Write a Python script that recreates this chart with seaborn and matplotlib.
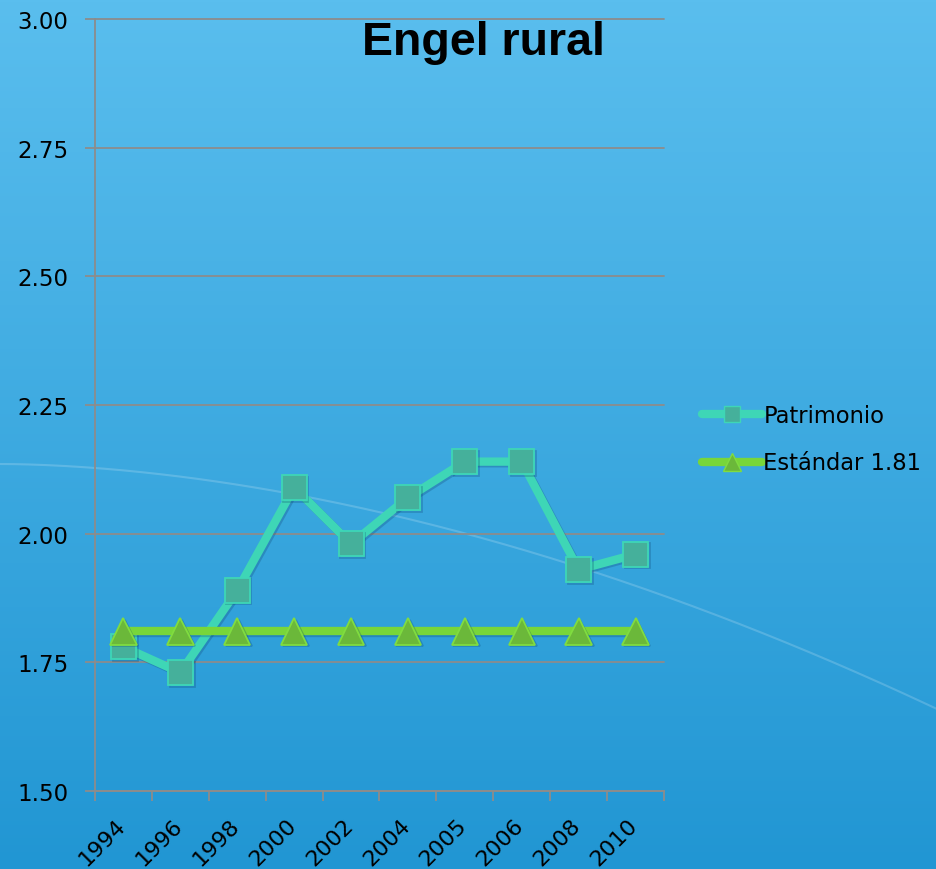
import numpy as np
import pandas as pd
import matplotlib
matplotlib.use("Agg")
import matplotlib.pyplot as plt
import matplotlib.transforms as mtransforms
import matplotlib.patheffects as pe
from matplotlib.lines import Line2D
from matplotlib.ticker import FixedLocator
import seaborn as sns

# ---- data ----
years = ["1994", "1996", "1998", "2000", "2002", "2004", "2005", "2006", "2008", "2010"]
patrimonio = [1.78, 1.73, 1.89, 2.09, 1.98, 2.07, 2.14, 2.14, 1.93, 1.96]
estandar = [1.81] * len(years)
y_ticks = [1.50, 1.75, 2.00, 2.25, 2.50, 2.75, 3.00]
title = "Engel rural"
series_names = ["Patrimonio", "Estándar 1.81"]

sns.set_theme(style="white")
plt.rcParams["font.family"] = ["DejaVu Sans"]

W, H = 937, 870
fig = plt.figure(figsize=(W / 100, H / 100), dpi=100)

# gradient backdrop
bg = fig.add_axes([0, 0, 1, 1], zorder=-10)
top = np.array([90, 190, 238]) / 255
bot = np.array([33, 150, 211]) / 255
t = np.linspace(0, 1, 256)[:, None]
grad = top[None, None, :] * (1 - t[..., None]) + bot[None, None, :] * t[..., None]
grad = np.repeat(grad, 4, axis=1)
bg.imshow(grad, aspect="auto", extent=[0, 1, 0, 1], origin="upper")
arc_x = np.linspace(0, 1, 200)
arc_y = 1 - (465 + 245 * (arc_x ** 1.8)) / H
bg.plot(arc_x, arc_y, color="white", alpha=0.18, lw=1.5)
bg.set_xlim(0, 1)
bg.set_ylim(0, 1)
bg.axis("off")

ax = fig.add_axes([95 / W, 1 - 792 / H, (664 - 95) / W, (792 - 20) / H])
ax.set_facecolor("none")

pos = np.arange(len(years))
df = pd.DataFrame({"pos": pos, "year": years, "Patrimonio": patrimonio, "Estandar": estandar})

shadow = [pe.SimpleLineShadow(offset=(1.2, -1.2), shadow_color="#0b3d66", alpha=0.25), pe.Normal()]

sns.lineplot(data=df, x="pos", y="Patrimonio", ax=ax, color="#3ED6B6", lw=6,
             marker="s", markersize=18, markerfacecolor="#45B09B",
             markeredgecolor="#3ED6B6", markeredgewidth=1.3, zorder=3)
sns.lineplot(data=df, x="pos", y="Estandar", ax=ax, color="#78D63A", lw=6,
             marker="^", markersize=19, markerfacecolor="#6BB83A",
             markeredgecolor="#80DC40", markeredgewidth=1.3, zorder=4)
for ln in ax.lines:
    ln.set_path_effects(shadow)

ax.set_xlim(-0.5, len(years) - 0.5)
ax.set_ylim(1.5, 3.0)
ax.set_xlabel("")
ax.set_ylabel("")

grid_c = "#8C8C8C"
ax.set_yticks(y_ticks)
ax.set_yticklabels([f"{v:.2f}" for v in y_ticks])
ax.yaxis.grid(True, color=grid_c, lw=1.3)
ax.xaxis.grid(False)
ax.set_axisbelow(True)
for gl in ax.yaxis.get_gridlines():
    gl.set_clip_on(False)

ax.xaxis.set_major_locator(FixedLocator(pos))
ax.set_xticklabels(years)
ax.xaxis.set_minor_locator(FixedLocator(np.arange(-0.5, len(years), 1.0)))
ax.tick_params(axis="x", which="major", length=0, pad=17, labelsize=16, labelcolor="black")
ax.tick_params(axis="x", which="minor", length=7, width=1.3, color=grid_c, direction="out", bottom=True)
ax.tick_params(axis="y", which="major", length=7, width=1.3, color=grid_c, direction="out",
               left=True, pad=12, labelsize=16.5, labelcolor="black")

shift = mtransforms.ScaledTranslation(0.06, 0, fig.dpi_scale_trans)
for lbl in ax.get_xticklabels():
    lbl.set_rotation(45)
    lbl.set_ha("right")
    lbl.set_transform(lbl.get_transform() + shift)

for side in ["top", "right"]:
    ax.spines[side].set_visible(False)
for side in ["left", "bottom"]:
    ax.spines[side].set_color(grid_c)
    ax.spines[side].set_linewidth(1.3)

fig.text(483 / W, 1 - 43 / H, title, ha="center", va="center", fontsize=33.5,
         fontweight="bold", color="black", family=["Liberation Sans", "DejaVu Sans"])

handles = [
    Line2D([], [], color="#3ED6B6", lw=6, marker="s", markersize=12,
           markerfacecolor="#45B09B", markeredgecolor="#3ED6B6", solid_capstyle="round"),
    Line2D([], [], color="#78D63A", lw=6, marker="^", markersize=13,
           markerfacecolor="#6BB83A", markeredgecolor="#80DC40", solid_capstyle="round"),
]
fig.legend(handles, series_names, loc="center left", bbox_to_anchor=(697 / W, 1 - 440 / H),
           frameon=False, fontsize=16.3, handlelength=2.65, handletextpad=0.08,
           labelspacing=1.1, numpoints=1, labelcolor="black", borderaxespad=0, borderpad=0.2)

fig.savefig("out.png", dpi=100)
